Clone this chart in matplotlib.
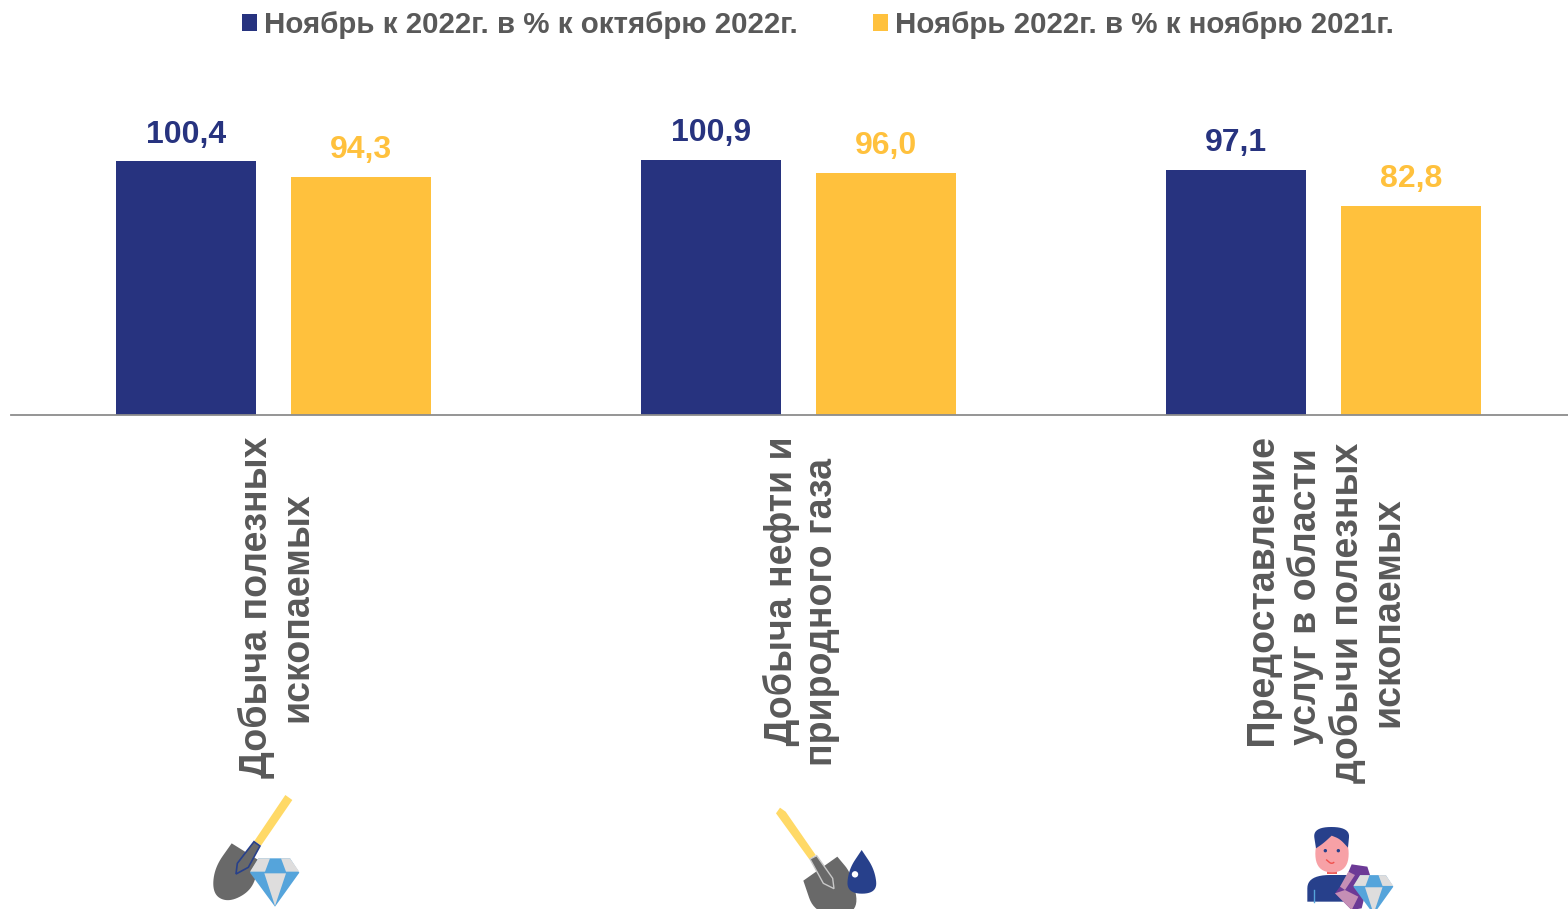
import matplotlib
matplotlib.use('Agg')
import matplotlib.pyplot as plt
from matplotlib.patches import Polygon, Circle
from matplotlib.transforms import ScaledTranslation
import numpy as np

plt.rcParams['font.family'] = ['Liberation Sans', 'DejaVu Sans']

categories = ['Добыча полезных\nископаемых', '    Добыча нефти и\nприродного газа',
              '    Предоставление\n   услуг в области\nдобычи полезных\nископаемых']
series_oct = [100.4, 100.9, 97.1]
series_year = [94.3, 96.0, 82.8]
series_names = ['Ноябрь к 2022г. в % к октябрю 2022г.', 'Ноябрь 2022г. в % к ноябрю 2021г.']

NAVY = '#27337F'
YELLOW = '#FFC13D'
GREY = '#595959'
ICON_BLUE = '#27408B'
SHOVEL = '#696969'
W, H = 1568, 909


def rounded(pts, sharp=()):
    # control polygon -> outline, corners not in sharp get a quadratic curve
    out = []
    n = len(pts)
    for i, p in enumerate(pts):
        p = np.array(p, float)
        prev = (np.array(pts[i - 1], float) + p) / 2
        nxt = (np.array(pts[(i + 1) % n], float) + p) / 2
        if i in sharp:
            out.extend([prev, p, nxt])
        else:
            for t in np.linspace(0, 1, 12):
                out.append((1 - t) ** 2 * prev + 2 * t * (1 - t) * p + t ** 2 * nxt)
    return out


def add_poly(ax, origin, pts, color, scale=1.0, **kw):
    xy = [(origin[0] + scale * x / 3, origin[1] + scale * y / 3) for x, y in pts]
    ax.add_patch(Polygon(xy, closed=True, facecolor=color, edgecolor=kw.pop('edge', 'none'),
                         linewidth=kw.pop('lw', 0), **kw))


def add_diamond(ax, o, scale=1.0):
    add_poly(ax, o, [(235, 235), (330, 235), (358, 278), (285, 380), (210, 278)], '#55A4DB', scale)
    add_poly(ax, o, [(235, 235), (270, 235), (255, 275), (210, 275)], '#DEDDDD', scale)
    add_poly(ax, o, [(303, 235), (330, 235), (358, 275), (318, 275)], '#DEDDDD', scale)
    add_poly(ax, o, [(253, 280), (318, 280), (285, 378)], '#DEDDDD', scale)


def draw_icons(ov):
    o = (180, 780)
    add_poly(ov, o, [(316, 45), (337, 60), (243, 197), (223, 183)], '#FFD966')
    add_poly(ov, o, rounded([(155, 190), (235, 240), (222, 325), (150, 368), (98, 345), (102, 265)],
                            sharp=(0, 1)), SHOVEL)
    add_poly(ov, o, [(222, 185), (240, 198), (205, 262), (168, 282), (172, 250)], SHOVEL, edge=ICON_BLUE, lw=1.2)
    add_diamond(ov, o)

    o = (760, 790)
    add_poly(ov, o, [(60, 53), (77, 65), (167, 195), (148, 208), (48, 70)], '#FFD966')
    add_poly(ov, o, rounded([(130, 272), (232, 200), (278, 255), (298, 375), (165, 375)], sharp=(0, 1)), SHOVEL)
    add_poly(ov, o, [(150, 207), (170, 197), (218, 265), (222, 296), (190, 280)], SHOVEL, edge='#C8C8C8', lw=1)
    add_poly(ov, o, rounded([(305, 180), (345, 240), (352, 311), (260, 311), (265, 240)], sharp=(0,)), ICON_BLUE)
    ov.add_patch(Circle((o[0] + 285 / 3, o[1] + 253 / 3), 3.2, facecolor='white'))

    o = (1290, 815)
    add_poly(ov, o, rounded([(52, 180), (190, 180), (190, 260), (52, 260)], sharp=(1, 2, 3)), ICON_BLUE)
    ov.plot([o[0] + 72 / 3, o[0] + 72 / 3], [o[1] + 225 / 3, o[1] + 260 / 3], color='#55A4DB', lw=1)
    add_poly(ov, o, [(110, 155), (142, 155), (142, 176), (110, 176)], '#F0615C')
    add_poly(ov, o, rounded([(76, 60), (176, 60), (176, 172), (76, 172)]), '#F7A1A6')
    add_poly(ov, o, rounded([(78, 100), (68, 36), (180, 36), (174, 98), (150, 72), (125, 62), (100, 85)],
                            sharp=(0, 3, 5)), ICON_BLUE)
    ov.add_patch(Circle((o[0] + 106 / 3, o[1] + 107 / 3), 1.7, facecolor=ICON_BLUE))
    ov.add_patch(Circle((o[0] + 145 / 3, o[1] + 107 / 3), 1.7, facecolor=ICON_BLUE))
    smile = np.array(rounded([(110, 135), (125, 148), (140, 135)], sharp=(0, 2))[1:14])
    ov.plot(o[0] + smile[:, 0] / 3, o[1] + smile[:, 1] / 3, color='#F0504C', lw=1)
    add_poly(ov, o, [(185, 148), (232, 155), (240, 180), (215, 280), (185, 285), (135, 235), (165, 195)], '#6C3A96')
    add_poly(ov, o, [(175, 170), (195, 180), (165, 225), (150, 215)], '#C58FB5')
    add_poly(ov, o, [(135, 235), (165, 225), (205, 245), (185, 285)], '#C58FB5')
    add_diamond(ov, (o[0] + 20 / 3, o[1] - 10 / 3), 0.81)


fig = plt.figure(figsize=(W / 100, H / 100), dpi=100)
base_y = 415
left = 11
width = 1575
ax = fig.add_axes([left / W, (H - base_y) / H, width / W, base_y / H])

x = np.arange(len(categories))
bar_w = 0.2667
offset = 0.1667
b1 = ax.bar(x - offset, series_oct, bar_w, color=NAVY, label=series_names[0])
b2 = ax.bar(x + offset, series_year, bar_w, color=YELLOW, label=series_names[1])
ax.set_xlim(-0.5, 2.5)
ax.set_ylim(0, base_y / 2.525)

for bars, vals, col in ((b1, series_oct, NAVY), (b2, series_year, YELLOW)):
    for r, v in zip(bars, vals):
        ax.annotate(f'{v:.1f}'.replace('.', ','), (r.get_x() + r.get_width() / 2, v),
                    xytext=(0, 8.5), textcoords='offset points', ha='center', va='bottom',
                    fontsize=23, fontweight='bold', color=col)

for s in ('top', 'left', 'right'):
    ax.spines[s].set_visible(False)
ax.spines['bottom'].set_color('#8C8C8C')
ax.spines['bottom'].set_linewidth(1.3)
ax.set_yticks([])
ax.set_xticks(x)
ax.set_xticklabels(categories, rotation=90, ha='center', va='top', multialignment='center',
                   fontsize=27, fontweight='bold', color=GREY, linespacing=1.16)
ax.tick_params(axis='x', length=0, pad=15.5)
nudge = ScaledTranslation(3 / 100, 0, fig.dpi_scale_trans)
for lab in ax.get_xticklabels():
    lab.set_transform(lab.get_transform() + nudge)

fig.legend(loc='center', bbox_to_anchor=(818 / W, (H - 25) / H), ncol=2, frameon=False,
           prop={'size': 21.25, 'weight': 'bold'}, labelcolor=GREY, handlelength=0.5,
           handleheight=0.5, handletextpad=0.25, columnspacing=2.55)

ov = fig.add_axes([0, 0, 1, 1])
ov.set_xlim(0, W)
ov.set_ylim(H, 0)
ov.axis('off')
ov.patch.set_alpha(0)
draw_icons(ov)

fig.savefig('out.png', dpi=100)
